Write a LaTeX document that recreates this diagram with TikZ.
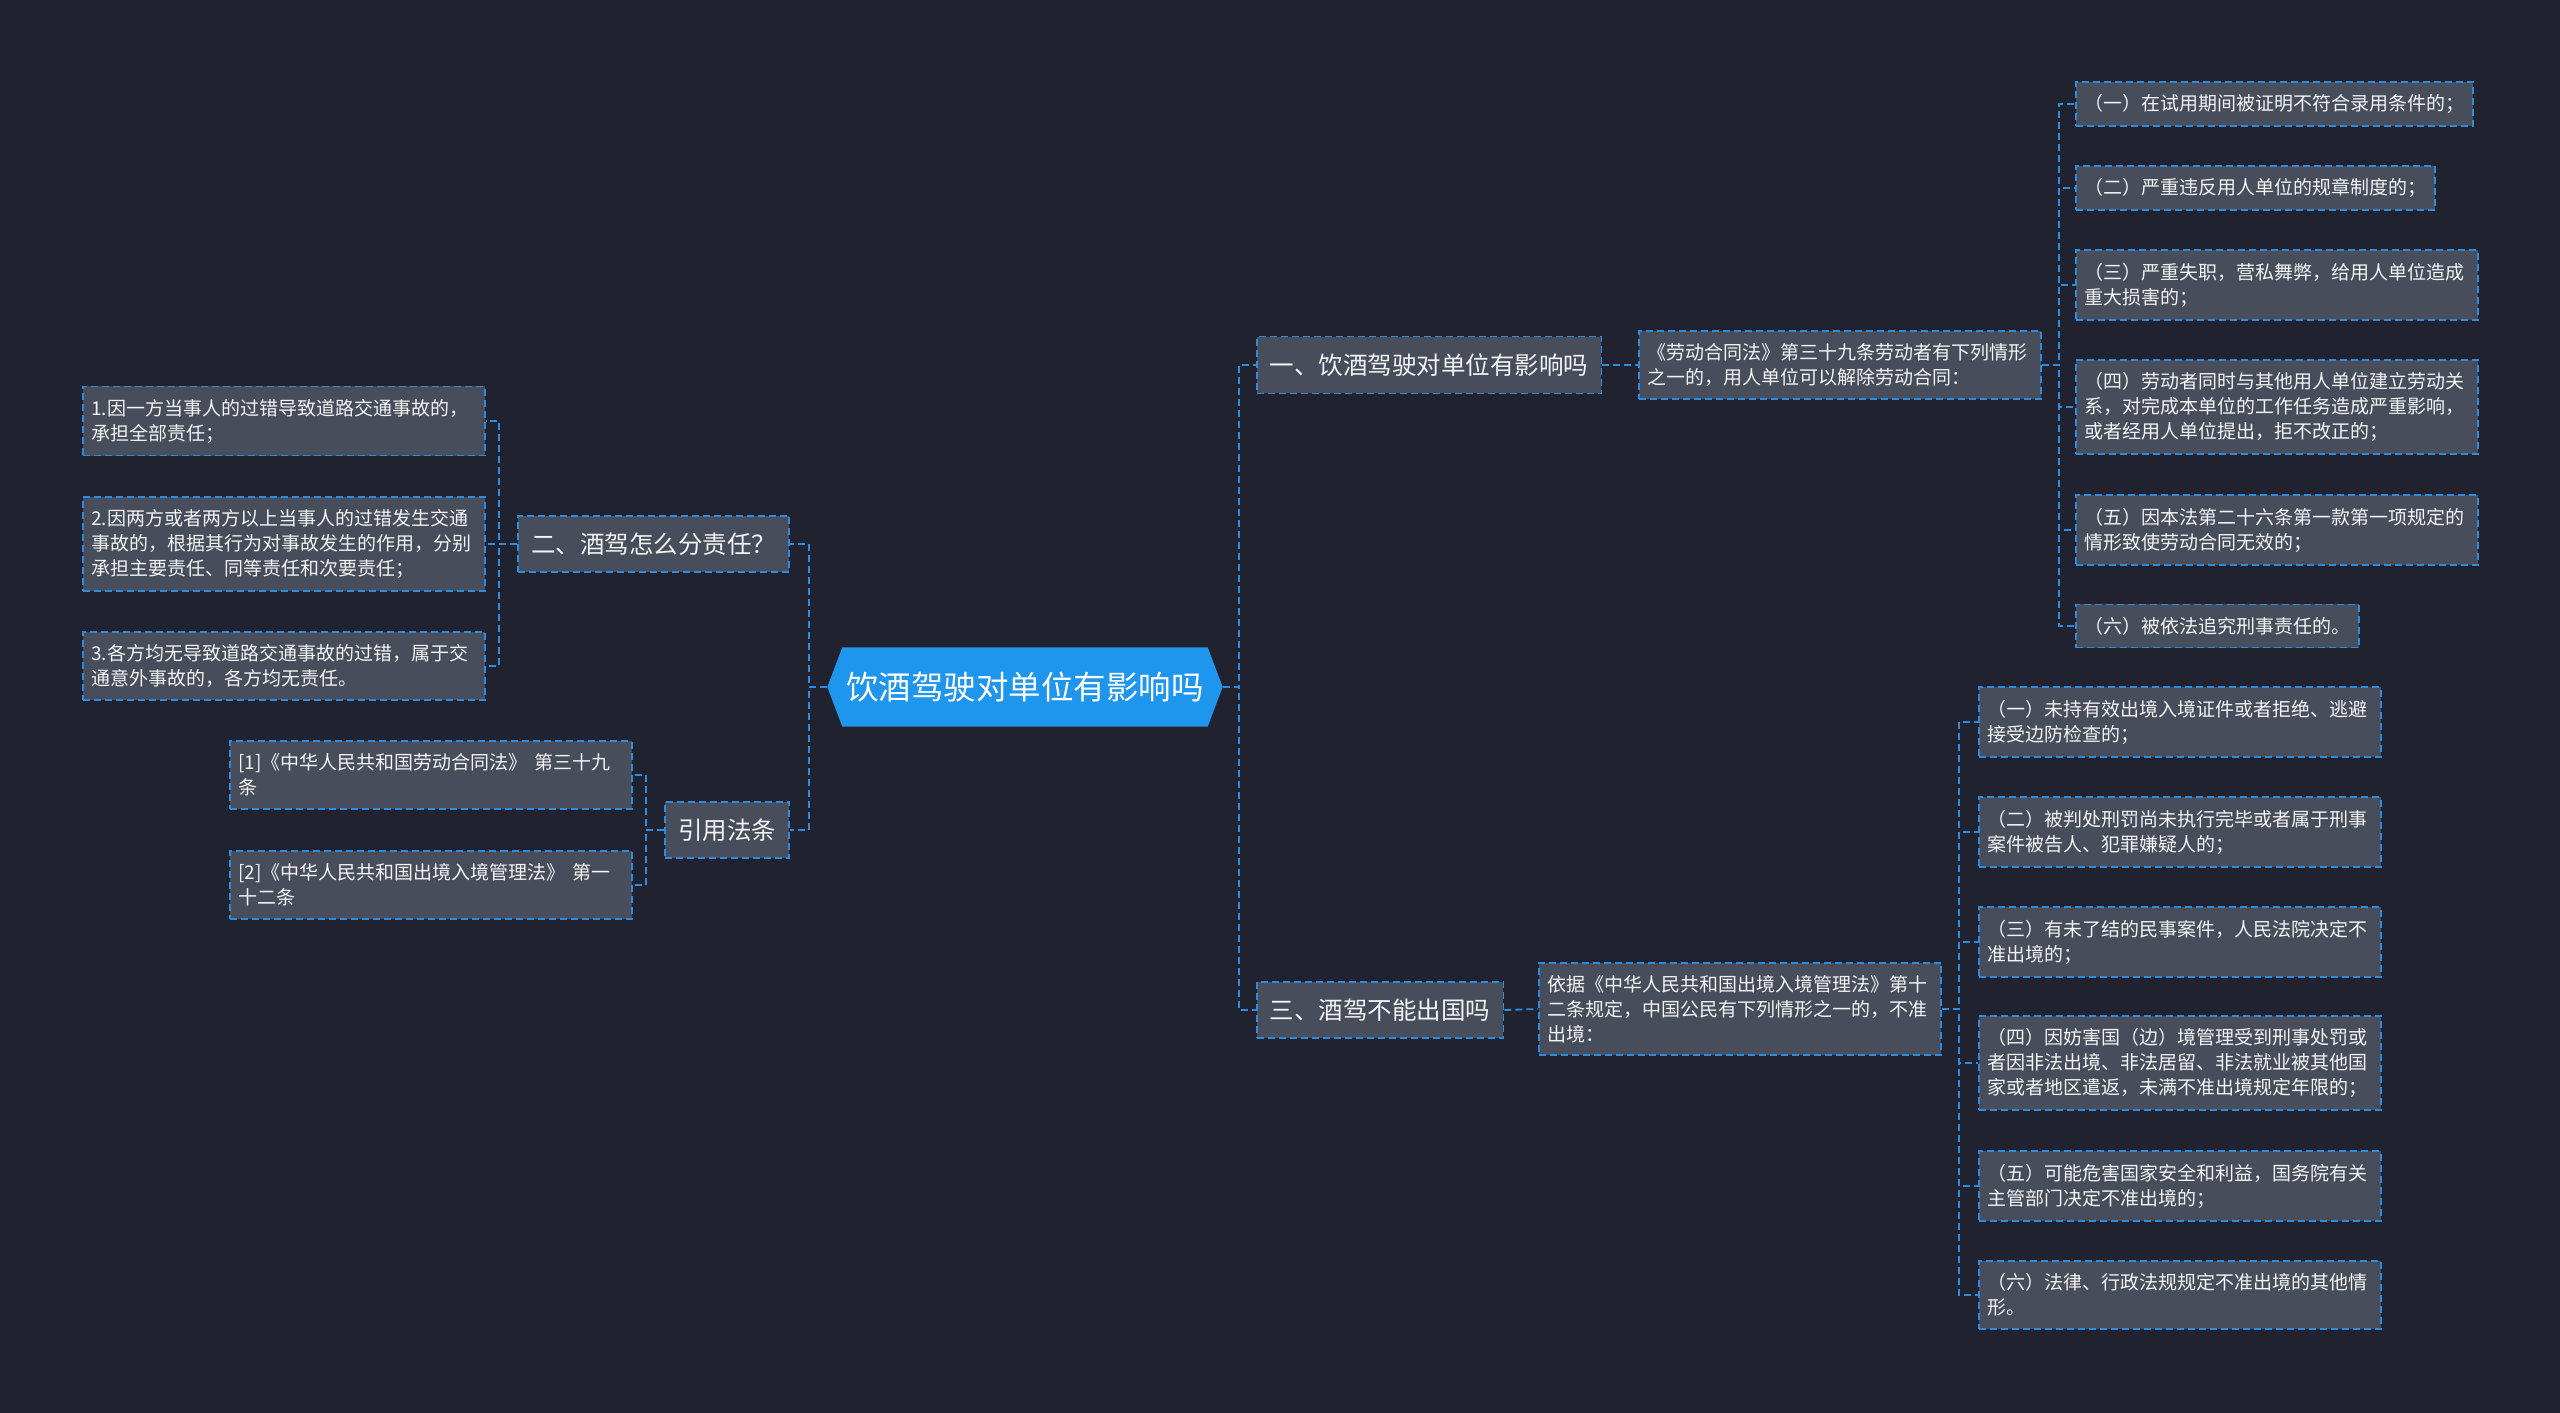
\documentclass[tikz,border=0pt]{standalone}
\usepackage{fontspec}
\setmainfont{Noto Sans CJK SC}
\usetikzlibrary{backgrounds}

\definecolor{bgdark}{HTML}{20232F}
\definecolor{boxgray}{HTML}{474D5B}
\definecolor{lineblue}{HTML}{2B8CE0}
\definecolor{rootblue}{HTML}{1E96EE}
\definecolor{txtwhite}{HTML}{F4F4F4}

\begin{document}
\begin{tikzpicture}[x=1pt,y=-1pt,
    link/.style={draw=lineblue,line width=1.8pt,dash pattern=on 7pt off 4pt},
    box/.style={draw=lineblue,line width=1.8pt,dash pattern=on 7pt off 4pt,
        fill=boxgray,text=txtwhite,align=left,inner xsep=8.5pt,inner ysep=12.5pt,
        font=\fontsize{19}{25}\selectfont},
    leaf/.style={box,text width=385pt},
    branch/.style={box,inner xsep=13pt,inner ysep=17pt,font=\fontsize{24.5}{30}\selectfont},
    rootnode/.style={text=white,inner sep=0pt,minimum width=395pt,minimum height=79pt,
        font=\fontsize{32.5}{36}\selectfont}]
    % centre
    \node[rootnode](root)at(1025,687){饮酒驾驶对单位有影响吗};
    % right side
    \node[branch,anchor=west](b1)at(1256,365){一、饮酒驾驶对单位有影响吗};
    \node[leaf,anchor=west](m1)at(1638,365){《劳动合同法》第三十九条劳动者有下列情形\\之一的，用人单位可以解除劳动合同：};
    \node[box,anchor=west](a1)at(2075,104){（一）在试用期间被证明不符合录用条件的；};
    \node[box,anchor=west](a2)at(2075,188){（二）严重违反用人单位的规章制度的；};
    \node[leaf,anchor=west](a3)at(2075,285){（三）严重失职，营私舞弊，给用人单位造成\\重大损害的；};
    \node[leaf,anchor=west](a4)at(2075,407){（四）劳动者同时与其他用人单位建立劳动关\\系，对完成本单位的工作任务造成严重影响，\\或者经用人单位提出，拒不改正的；};
    \node[leaf,anchor=west](a5)at(2075,530){（五）因本法第二十六条第一款第一项规定的\\情形致使劳动合同无效的；};
    \node[box,anchor=west](a6)at(2075,626){（六）被依法追究刑事责任的。};
    \node[branch,anchor=west](b3)at(1256,1010){三、酒驾不能出国吗};
    \node[leaf,anchor=west](m3)at(1538,1009){依据《中华人民共和国出境入境管理法》第十\\二条规定，中国公民有下列情形之一的，不准\\出境：};
    \node[leaf,anchor=west](c1)at(1978,722){（一）未持有效出境入境证件或者拒绝、逃避\\接受边防检查的；};
    \node[leaf,anchor=west](c2)at(1978,832){（二）被判处刑罚尚未执行完毕或者属于刑事\\案件被告人、犯罪嫌疑人的；};
    \node[leaf,anchor=west](c3)at(1978,942){（三）有未了结的民事案件，人民法院决定不\\准出境的；};
    \node[leaf,anchor=west](c4)at(1978,1063){（四）因妨害国（边）境管理受到刑事处罚或\\者因非法出境、非法居留、非法就业被其他国\\家或者地区遣返，未满不准出境规定年限的；};
    \node[leaf,anchor=west](c5)at(1978,1186){（五）可能危害国家安全和利益，国务院有关\\主管部门决定不准出境的；};
    \node[leaf,anchor=west](c6)at(1978,1295){（六）法律、行政法规规定不准出境的其他情\\形。};
    % left side
    \node[branch,anchor=east](b2)at(790,544){二、酒驾怎么分责任？};
    \node[leaf,anchor=west](l1)at(82,421){1.因一方当事人的过错导致道路交通事故的，\\承担全部责任；};
    \node[leaf,anchor=west](l2)at(82,544){2.因两方或者两方以上当事人的过错发生交通\\事故的，根据其行为对事故发生的作用，分别\\承担主要责任、同等责任和次要责任；};
    \node[leaf,anchor=west](l3)at(82,666){3.各方均无导致道路交通事故的过错，属于交\\通意外事故的，各方均无责任。};
    \node[branch,anchor=east](b4)at(790,830){引用法条};
    \node[leaf,anchor=west](r1)at(229,775){[1]《中华人民共和国劳动合同法》 第三十九\\条};
    \node[leaf,anchor=west](r2)at(229,885){[2]《中华人民共和国出境入境管理法》 第一\\十二条};
    \begin{scope}[on background layer]
        \fill[bgdark](0,0)rectangle(2560,1413);
        \fill[rootblue](root.west)--([xshift=15pt]root.north west)--([xshift=-15pt]root.north east)
            --(root.east)--([xshift=-15pt]root.south east)--([xshift=15pt]root.south west)--cycle;
    \end{scope}
    % connectors
    \draw[link](root.east)--++(16,0)|-(b1.west);
    \draw[link](root.east)--++(16,0)|-(b3.west);
    \draw[link](root.west)--++(-18,0)|-(b2.east);
    \draw[link](root.west)--++(-18,0)|-(b4.east);
    \draw[link](b1.east)--(m1.west);
    \draw[link](b3.east)--(m3.west);
    \draw[link](m1.east)--++(17,0)|-(a1.west);
    \draw[link](m1.east)--++(17,0)|-(a2.west);
    \draw[link](m1.east)--++(17,0)|-(a3.west);
    \draw[link](m1.east)--++(17,0)|-(a4.west);
    \draw[link](m1.east)--++(17,0)|-(a5.west);
    \draw[link](m1.east)--++(17,0)|-(a6.west);
    \draw[link](m3.east)--++(17,0)|-(c1.west);
    \draw[link](m3.east)--++(17,0)|-(c2.west);
    \draw[link](m3.east)--++(17,0)|-(c3.west);
    \draw[link](m3.east)--++(17,0)|-(c4.west);
    \draw[link](m3.east)--++(17,0)|-(c5.west);
    \draw[link](m3.east)--++(17,0)|-(c6.west);
    \draw[link](b2.west)--++(-18,0)|-(l1.east);
    \draw[link](b2.west)--++(-18,0)|-(l2.east);
    \draw[link](b2.west)--++(-18,0)|-(l3.east);
    \draw[link](b4.west)--++(-18,0)|-(r1.east);
    \draw[link](b4.west)--++(-18,0)|-(r2.east);
\end{tikzpicture}
\end{document}
